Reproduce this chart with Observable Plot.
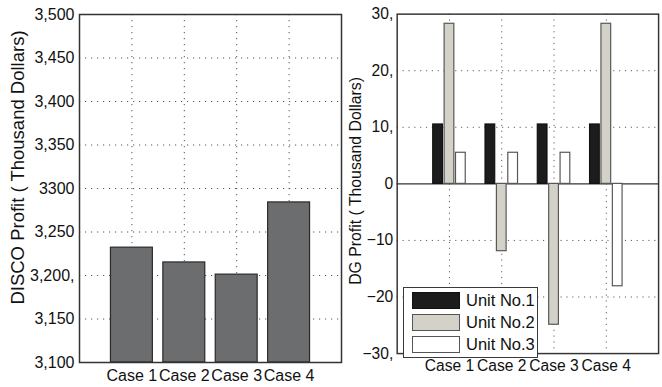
<!DOCTYPE html>
<html><head><meta charset="utf-8">
<script src="https://cdn.jsdelivr.net/npm/d3@7"></script>
<script src="https://cdn.jsdelivr.net/npm/@observablehq/plot@0.6"></script>
<style>
html,body{margin:0;padding:0;background:#fff;overflow:hidden;}
#wrap{position:relative;width:662px;height:387px;overflow:hidden;font-family:"Liberation Sans",Arial,Helvetica,sans-serif;}
#left,#right{position:absolute;top:0;}
#left{left:0;}
#right{left:345px;}
#legend{position:absolute;left:403px;top:287px;width:133px;height:69px;border:1.5px solid #3a3a3a;background:#fff;box-sizing:content-box;}
#legend .row{position:absolute;left:8px;height:17px;display:flex;align-items:center;}
#legend .sw{width:48px;height:17px;box-sizing:border-box;border:1.5px solid #555;margin-right:6px;}
#legend .lb{font-size:16.5px;color:#111;white-space:nowrap;}
</style></head><body>
<div id="wrap"><div id="left"></div><div id="right"></div><div id="legend"></div></div>
<script>
// ---- data ----
const cases = ["Case 1", "Case 2", "Case 3", "Case 4"];
const casePositions = [1, 2, 3, 4];
const discoProfit = [3232, 3215, 3201, 3284];
const discoTicks = [3100, 3150, 3200, 3250, 3300, 3350, 3400, 3450, 3500];
const discoTickLabels = ["3,100", "3,150", "3,200,", "3,250", "3300", "3,350", "3,400", "3,450", "3,500"];
const discoLabel = "DISCO Profit ( Thousand Dollars)";

const units = ["Unit No.1", "Unit No.2", "Unit No.3"];
const unit1Profit = [10.5, 10.5, 10.5, 10.5];
const unit2Profit = [28.3, -11.9, -24.9, 28.3];
const unit3Profit = [5.5, 5.5, 5.5, -18.1];
const dgTicks = [-30, -20, -10, 0, 10, 20, 30];
const dgTickLabels = ["\u221230,", "\u221220", "\u221210", "0", "10,", "20,", "30,"];
const dgLabel = "DG Profit ( Thousand Dollars)";

const unitFills = ["#1c1c1c", "#d4d1c9", "#ffffff"];
const unitStrokes = ["#111111", "#555555", "#555555"];

// ---- shared style ----
const font = '"Liberation Sans", Arial, Helvetica, sans-serif';
const gridStyle = {stroke: "#444", strokeOpacity: 0.9, strokeWidth: 1, strokeDasharray: "1.2,4.8"};

// ---- left panel ----
const discoData = cases.map((c, i) => ({c, pos: casePositions[i], value: discoProfit[i]}));
const discoBase = discoTicks[0];
const left = Plot.plot({
  width: 345, height: 387,
  marginLeft: 79, marginRight: 4, marginTop: 14, marginBottom: 25,
  style: {fontFamily: font, fontSize: "16px", color: "#111", background: "transparent", overflow: "visible"},
  x: {type: "linear", domain: [0, 5], ticks: casePositions, tickFormat: d => cases[casePositions.indexOf(d)], tickSize: 0, tickPadding: 7, label: null},
  y: {domain: [discoTicks[0], discoTicks[discoTicks.length - 1]], ticks: discoTicks, tickFormat: d => discoTickLabels[discoTicks.indexOf(d)], tickSize: 0, tickPadding: 5, label: null},
  marks: [
    Plot.gridY(discoTicks.slice(1, -1), gridStyle),
    Plot.gridX(casePositions, gridStyle),
    Plot.rect(discoData, {x1: d => d.pos - 0.4, x2: d => d.pos + 0.4, y1: () => discoBase, y2: "value", fill: "#6c6d6f", stroke: "#2a2a2a", strokeWidth: 1.2}),
    Plot.frame({stroke: "#333", strokeWidth: 1.5}),
    Plot.text([discoLabel], {text: d => d, frameAnchor: "left", textAnchor: "middle", rotate: -90, dx: -61, dy: -21, fontSize: 18.5, fill: "#111"})
  ]
});
document.getElementById("left").append(left);

// ---- right panel ----
const unitSeries = [unit1Profit, unit2Profit, unit3Profit];
const offsets = [-0.218, 0, 0.218];
const dgData = [];
cases.forEach((c, i) => units.forEach((u, k) => dgData.push({c, u, k, pos: casePositions[i] + offsets[k], value: unitSeries[k][i]})));
const right = Plot.plot({
  width: 325, height: 387,
  marginLeft: 53, marginRight: 4, marginTop: 14, marginBottom: 25,
  style: {fontFamily: font, fontSize: "16px", color: "#111", background: "transparent", overflow: "visible"},
  x: {type: "linear", domain: [0, 5], ticks: casePositions, tickFormat: d => cases[casePositions.indexOf(d)], tickSize: 0, tickPadding: 7, label: null},
  y: {domain: [dgTicks[0], dgTicks[dgTicks.length - 1]], ticks: dgTicks, tickFormat: d => dgTickLabels[dgTicks.indexOf(d)], tickSize: 0, tickPadding: 4, label: null},
  marks: [
    Plot.gridY(dgTicks.filter(t => t !== 0 && Math.abs(t) !== 30), gridStyle),
    Plot.gridX(casePositions, gridStyle),
    Plot.ruleY([0], {stroke: "#333", strokeWidth: 1.2}),
    ...units.map((u, k) => Plot.rect(dgData.filter(d => d.k === k), {x1: d => d.pos - 0.093, x2: d => d.pos + 0.093, y1: () => 0, y2: "value", fill: unitFills[k], stroke: unitStrokes[k], strokeWidth: 1.2})),
    Plot.frame({stroke: "#333", strokeWidth: 1.5}),
    Plot.text([dgLabel], {text: d => d, frameAnchor: "left", textAnchor: "middle", rotate: -90, dx: -42, dy: -3, fontSize: 16.2, fill: "#111"})
  ]
});
document.getElementById("right").append(right);

// ---- legend ----
const legend = document.getElementById("legend");
units.forEach((u, k) => {
  const row = document.createElement("div");
  row.className = "row";
  row.style.top = (4 + k * 22) + "px";
  const sw = document.createElement("div");
  sw.className = "sw";
  sw.style.background = unitFills[k];
  sw.style.borderColor = unitStrokes[k];
  const lb = document.createElement("span");
  lb.className = "lb";
  lb.textContent = u;
  row.append(sw, lb);
  legend.append(row);
});
</script>
</body></html>
